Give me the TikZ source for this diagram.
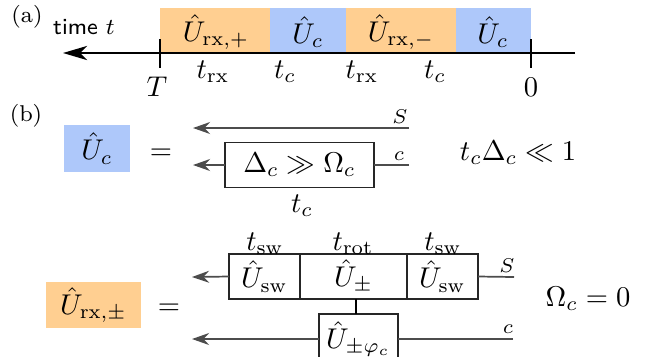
\documentclass[tikz,border=0pt]{standalone}
\usetikzlibrary{arrows.meta}
\definecolor{orng}{RGB}{255,207,145}
\definecolor{blu}{RGB}{174,200,250}
\begin{document}
\begin{tikzpicture}[x=0.35pt,y=-0.35pt,
  wire/.style={black!70,line width=0.6pt},
  warrow/.style={wire,-{Stealth[length=6pt,width=4.2pt,inset=2pt]}},
  axis/.style={line width=0.75pt,-{Stealth[length=8.5pt,width=5pt,inset=2.5pt]}},
  tick/.style={line width=0.75pt},
  gate/.style={draw=black!85,line width=0.5pt,fill=white,inner sep=0pt,outer sep=0pt,minimum height=15.75pt},
  wlabel/.style={inner sep=0pt,font=\scriptsize},
  ptlabel/.style={font=\footnotesize}]
\path[use as bounding box,clip] (0,0) rectangle (645,356);

% ---------- (a) ----------
\node[ptlabel] (la) at (27,17) {(a)};
\node[font=\footnotesize\sffamily] (time) at (84,27) {time $t$};
\fill[orng] (160,8) rectangle (270,53);
\fill[blu]  (270,8) rectangle (346,53);
\fill[orng] (346,8) rectangle (456,53);
\fill[blu]  (456,8) rectangle (531,53);
\node (ua1) at (216,32) {$\hat U_{\mathrm{rx},+}$};
\node (ua2) at (308,32) {$\hat U_c$};
\node (ua3) at (401,32) {$\hat U_{\mathrm{rx},-}$};
\node (ua4) at (493,32) {$\hat U_c$};
\coordinate (aR) at (575,53);
\coordinate (aL) at (63,53);
\draw[axis] (aR) -- (aL);
\coordinate (tT1) at (160,39); \coordinate (tT2) at (160,68);
\coordinate (t01) at (531,39); \coordinate (t02) at (531,68);
\draw[tick] (tT1) -- (tT2);
\draw[tick] (t01) -- (t02);
\node (T) at (157,87) {$T$};
\node (zero) at (531,87) {$0$};
\node (ta1) at (213,72) {$t_{\mathrm{rx}}$};
\node (ta2) at (285,72) {$t_c$};
\node (ta3) at (362,72) {$t_{\mathrm{rx}}$};
\node (ta4) at (435,72) {$t_c$};

% ---------- (b) top ----------
\node[ptlabel] (lb) at (26,116) {(b)};
\node[fill=blu,inner sep=0pt,minimum width=23.1pt,minimum height=16.45pt] (ub) at (97,148.5) {$\hat U_c$};
\node (eq1) at (161,154) {$=$};
\coordinate (sR) at (409,128);
\coordinate (sL) at (193,128);
\draw[warrow] (sR) -- (sL);
\node[wlabel,anchor=base] (sl1) at (400,123) {$S$};
\node[gate,minimum width=52.15pt] (dbox) at (299.5,165) {$\Delta_c \gg \Omega_c$};
\coordinate (cR) at (409,165);
\coordinate (cL) at (193,165);
\draw[wire] (cR) -- (dbox.east);
\draw[warrow] (dbox.west) -- (cL);
\node[wlabel,anchor=base] (cl1) at (399,160) {$c$};
\node (tcb) at (302,206) {$t_c$};
\node (cond1) at (518,153) {$t_c\Delta_c \ll 1$};

% ---------- (b) bottom ----------
\node[fill=orng,inner sep=0pt,minimum width=33.25pt,minimum height=16.1pt] (ur) at (93.5,305) {$\hat U_{\mathrm{rx},\pm}$};
\node (eq2) at (169,309) {$=$};
\node[gate,minimum width=24.85pt] (g1) at (264.5,276.5) {$\hat U_{\mathrm{sw}}$};
\node[gate,minimum width=37.45pt] (g2) at (353.5,276.5) {$\hat U_{\pm}$};
\node[gate,minimum width=24.85pt] (g3) at (442.5,276.5) {$\hat U_{\mathrm{sw}}$};
\node (ts1) at (265,244) {$t_{\mathrm{sw}}$};
\node (ts2) at (353,244) {$t_{\mathrm{rot}}$};
\node (ts3) at (443,244) {$t_{\mathrm{sw}}$};
\coordinate (s2R) at (514,277);
\coordinate (s2L) at (192,277);
\draw[wire] (s2R) -- (g3.east);
\draw[warrow] (g1.west) -- (s2L);
\node[wlabel,anchor=base] (sl2) at (507,272) {$S$};
\node[gate,minimum width=27.65pt,minimum height=17.5pt] (gl) at (358.5,339) {$\hat U_{\pm\varphi_c}$};
\draw[line width=0.5pt] (g2.south -| 356,0) -- (gl.north -| 356,0);
\coordinate (c2R) at (513,339);
\coordinate (c2L) at (192,339);
\draw[wire] (c2R) -- (gl.east);
\draw[warrow] (gl.west) -- (c2L);
\node[wlabel,anchor=base] (cl2) at (508,333) {$c$};
\node (cond2) at (588,299) {$\Omega_c = 0$};
\end{tikzpicture}
\end{document}
